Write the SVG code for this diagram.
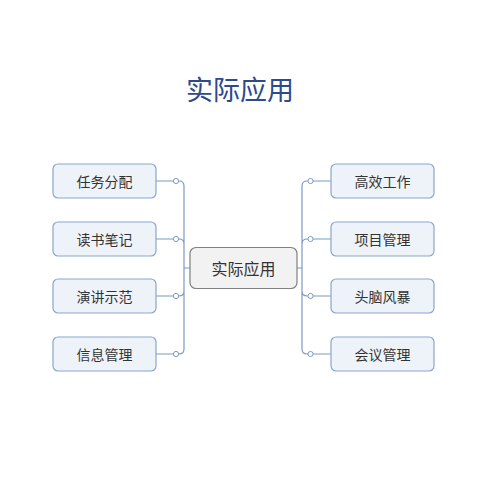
<svg xmlns="http://www.w3.org/2000/svg" width="485" height="485" viewBox="0 0 485 485">
<style>
.t{font-family:"Noto Sans CJK SC","Liberation Sans",sans-serif;fill:#333;text-anchor:middle;dominant-baseline:central}
.child rect{fill:#eef3fa;stroke:#8aa6cb;stroke-width:1.2}
.child text{font-size:14px}
.c{fill:none;stroke:#7d9bc4;stroke-width:1.2}
.dot{fill:#fff;stroke:#7d9bc4;stroke-width:1}
</style>
<rect width="485" height="485" fill="#fff"/>
<text class="t" x="240" y="88" style="font-size:27px;fill:#2d4a8c">实际应用</text>
<g id="connectors">
<path class="c" d="M190,268 H184 M184,268 V186 Q184,181 179,181 H156 M184,268 V244 Q184,239 179,239 H156 M184,268 V291 Q184,296 179,296 H156 M184,268 V349 Q184,354 179,354 H156"/>
<path class="c" d="M297,268 H302 M302,268 V186 Q302,181 307,181 H331 M302,268 V244 Q302,239 307,239 H331 M302,268 V291 Q302,296 307,296 H331 M302,268 V349 Q302,354 307,354 H331"/>
<circle class="dot" cx="176" cy="181" r="2.6"/>
<circle class="dot" cx="176" cy="239" r="2.6"/>
<circle class="dot" cx="176" cy="296" r="2.6"/>
<circle class="dot" cx="176" cy="354" r="2.6"/>
<circle class="dot" cx="310.5" cy="181" r="2.6"/>
<circle class="dot" cx="310.5" cy="239" r="2.6"/>
<circle class="dot" cx="310.5" cy="296" r="2.6"/>
<circle class="dot" cx="310.5" cy="354" r="2.6"/>
</g>
<g id="center">
<rect x="190" y="247.5" width="107" height="41" rx="6" fill="#f2f2f2" stroke="#808080" stroke-width="1.2"/>
<text class="t" x="243.5" y="268" style="font-size:16px">实际应用</text>
</g>
<g id="n1" class="child"><rect x="53" y="164" width="103" height="34" rx="5"/><text class="t" x="104.5" y="181">任务分配</text></g>
<g id="n2" class="child"><rect x="53" y="222" width="103" height="34" rx="5"/><text class="t" x="104.5" y="239">读书笔记</text></g>
<g id="n3" class="child"><rect x="53" y="279" width="103" height="34" rx="5"/><text class="t" x="104.5" y="296">演讲示范</text></g>
<g id="n4" class="child"><rect x="53" y="337" width="103" height="34" rx="5"/><text class="t" x="104.5" y="354">信息管理</text></g>
<g id="n5" class="child"><rect x="331" y="164" width="103" height="34" rx="5"/><text class="t" x="382.5" y="181">高效工作</text></g>
<g id="n6" class="child"><rect x="331" y="222" width="103" height="34" rx="5"/><text class="t" x="382.5" y="239">项目管理</text></g>
<g id="n7" class="child"><rect x="331" y="279" width="103" height="34" rx="5"/><text class="t" x="382.5" y="296">头脑风暴</text></g>
<g id="n8" class="child"><rect x="331" y="337" width="103" height="34" rx="5"/><text class="t" x="382.5" y="354">会议管理</text></g>
</svg>
